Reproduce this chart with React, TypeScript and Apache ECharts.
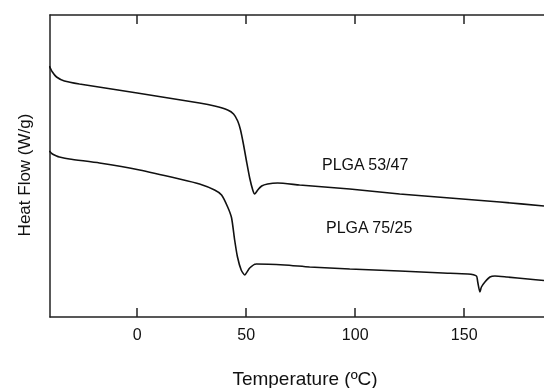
import React, { useEffect, useRef } from "react";
import * as echarts from "echarts";

// Temperature (ºC) / heat flow (arbitrary W/g offset units)
const plga5347Temp = [-40.3, -38.9, -37.0, -33.4, -26.5, 0, 28.6, 35.5, 41.5, 44.2, 46.1, 47.4, 48.8, 50.2, 51.6, 53.0, 53.9, 55.3, 57.1, 59.8, 64.4, 74.5, 97.5, 120.4, 143.4, 166.4, 186.6];
const plga5347Flow = [2.51, 2.45, 2.40, 2.36, 2.33, 2.24, 2.14, 2.11, 2.07, 2.03, 1.96, 1.87, 1.72, 1.55, 1.39, 1.27, 1.23, 1.27, 1.31, 1.33, 1.34, 1.32, 1.28, 1.23, 1.19, 1.15, 1.11];

const plga7525Temp = [-40.3, -38.9, -37.0, -35.7, -31.1, -17.3, 1.1, 19.4, 28.6, 35.5, 38.7, 41.5, 43.3, 44.7, 46.0, 47.7, 49.3, 51.6, 54.6, 67.6, 79.1, 97.5, 120.4, 140.2, 151.7, 155.6, 156.2, 157.2, 157.9, 159.5, 161.8, 164.1, 169.6, 179.2, 186.6];
const plga7525Flow = [1.66, 1.63, 1.61, 1.60, 1.58, 1.54, 1.47, 1.38, 1.33, 1.27, 1.22, 1.10, 0.99, 0.77, 0.60, 0.47, 0.42, 0.49, 0.53, 0.52, 0.50, 0.48, 0.46, 0.44, 0.43, 0.41, 0.35, 0.25, 0.30, 0.35, 0.40, 0.41, 0.40, 0.38, 0.365];

const xTicks = [0, 50, 100, 150];
const seriesNames = ["PLGA 53/47", "PLGA 75/25"];
const xTitle = "Temperature (ºC)";
const yTitle = "Heat Flow (W/g)";

const FONT = "'Liberation Sans', Arial, sans-serif";

export default function App() {
  const ref = useRef<HTMLDivElement>(null);
  useEffect(() => {
    if (!ref.current) return;
    const chart = echarts.init(ref.current, undefined, { renderer: "svg" });
    const zip = (xs: number[], ys: number[]) => xs.map((x, i) => [x, ys[i]]);
    const axisColor = "#222";
    chart.setOption({
      animation: false,
      grid: { left: 50, top: 15, right: 0, bottom: 71 },
      xAxis: [
        {
          type: "value",
          position: "bottom",
          min: -40,
          max: 186.6,
          axisLine: { show: true, onZero: false, lineStyle: { color: axisColor, width: 1.5 } },
          axisTick: { show: true, inside: true, length: 9, customValues: xTicks, lineStyle: { color: axisColor, width: 1.5 } },
          axisLabel: { show: true, customValues: xTicks, margin: 9, color: "#111", fontSize: 16, fontFamily: FONT },
          splitLine: { show: false },
        },
        {
          type: "value",
          position: "top",
          min: -40,
          max: 186.6,
          axisLine: { show: true, onZero: false, lineStyle: { color: axisColor, width: 1.5 } },
          axisTick: { show: true, inside: true, length: 9, customValues: xTicks, lineStyle: { color: axisColor, width: 1.5 } },
          axisLabel: { show: false },
          splitLine: { show: false },
        },
      ],
      yAxis: {
        type: "value",
        min: 0,
        max: 3.02,
        axisLine: { show: true, onZero: false, lineStyle: { color: axisColor, width: 1.5 } },
        axisTick: { show: false },
        axisLabel: { show: false },
        splitLine: { show: false },
      },
      series: [
        {
          name: seriesNames[0],
          type: "line",
          data: zip(plga5347Temp, plga5347Flow),
          showSymbol: false,
          smooth: 0.2,
          lineStyle: { color: "#111", width: 1.6 },
        },
        {
          name: seriesNames[1],
          type: "line",
          data: zip(plga7525Temp, plga7525Flow),
          showSymbol: false,
          smooth: 0.2,
          lineStyle: { color: "#111", width: 1.6 },
        },
      ],
      graphic: [
        {
          type: "text",
          left: 322,
          top: 156,
          style: { text: seriesNames[0], fill: "#111", fontSize: 16, fontFamily: FONT },
        },
        {
          type: "text",
          left: 326,
          top: 219,
          style: { text: seriesNames[1], fill: "#111", fontSize: 16, fontFamily: FONT },
        },
        {
          type: "text",
          x: 305,
          y: 378,
          style: { text: xTitle, fill: "#111", fontSize: 19, fontFamily: FONT, align: "center", verticalAlign: "middle" },
        },
        {
          type: "text",
          x: 24,
          y: 175,
          rotation: Math.PI / 2,
          style: { text: yTitle, fill: "#111", fontSize: 17, fontFamily: FONT, align: "center", verticalAlign: "middle" },
        },
      ],
    });
    return () => chart.dispose();
  }, []);
  return <div ref={ref} style={{ position: "fixed", left: 0, top: 0, width: 544, height: 388 }} />;
}
